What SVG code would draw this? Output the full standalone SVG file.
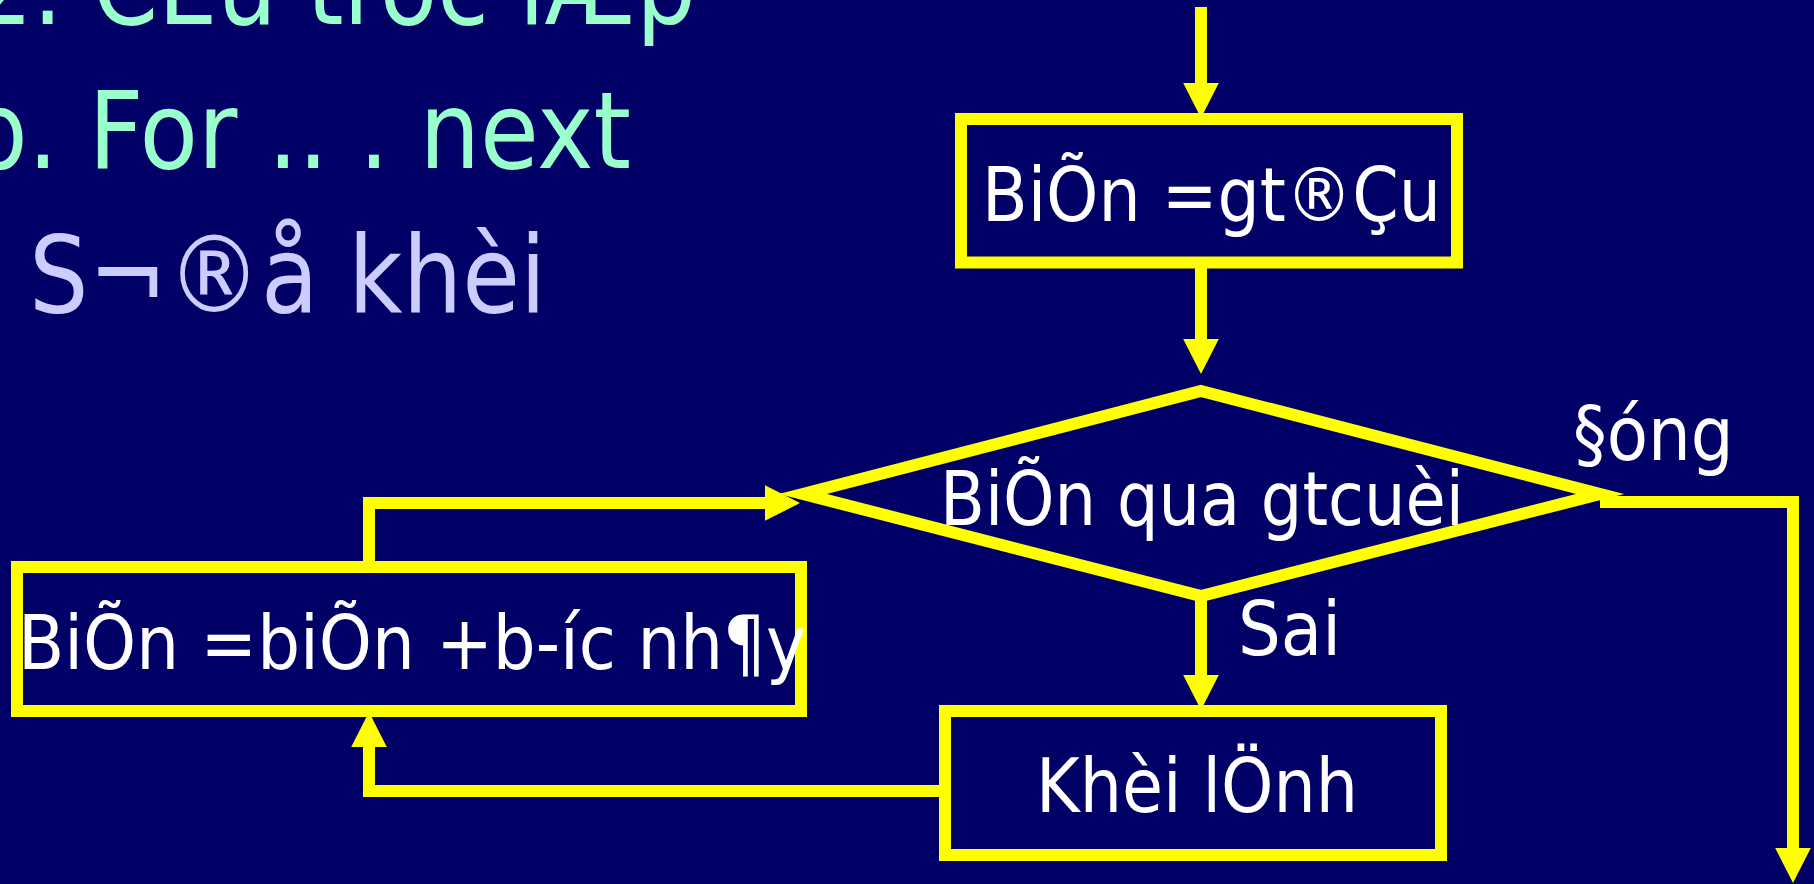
<svg xmlns="http://www.w3.org/2000/svg" width="1814" height="884" viewBox="0 0 1814 884">
<style>
.t{font-family:"DejaVu Sans Condensed","DejaVu Sans",sans-serif;font-stretch:condensed}
.title{font-size:107px;fill:#99FFCC}
.sub{font-size:107px;fill:#CCCCFF}
.lbl{font-size:75px;fill:#FFFFFF}
.shape{fill:none;stroke:#FFFF00;stroke-width:12;stroke-miterlimit:10}
.conn{fill:none;stroke:#FFFF00;stroke-width:12}
</style>
<defs>
<marker id="arr" markerUnits="userSpaceOnUse" markerWidth="36" markerHeight="36" refX="1" refY="17.8" orient="auto">
<path d="M0,0 L35,17.8 L0,35.6 z" fill="#FFFF00"/>
</marker>
</defs>
<rect x="0" y="0" width="1814" height="884" fill="#000066"/>
<g id="titles">
<text class="t title" x="-27" y="24" textLength="723" lengthAdjust="spacingAndGlyphs">2. CÊu tróc lÆp</text>
<text class="t title" x="-33" y="168" textLength="664" lengthAdjust="spacingAndGlyphs">b. For .. . next</text>
<text class="t sub" x="29" y="312" textLength="517" lengthAdjust="spacingAndGlyphs">S¬®å khèi</text>
</g>
<g id="connectors">
<path class="conn" d="M1201,7 V84" marker-end="url(#arr)"/>
<path class="conn" d="M1201,268 V340" marker-end="url(#arr)"/>
<path class="conn" d="M1201,596 V676" marker-end="url(#arr)"/>
<path class="conn" d="M1600,502 H1793 V849" marker-end="url(#arr)"/>
<path class="conn" d="M939,791 H369 V746" marker-end="url(#arr)"/>
<path class="conn" d="M369,561 V503 H766" marker-end="url(#arr)"/>
</g>
<g id="start-box">
<rect class="shape" x="961" y="119" width="496" height="143.5"/>
<text class="t lbl" x="1211.5" y="221" text-anchor="middle" textLength="459" lengthAdjust="spacingAndGlyphs">BiÕn =gt®Çu</text>
</g>
<g id="decision">
<polygon class="shape" points="1201,391 1600,494 1201,596 803,494"/>
<text class="t lbl" x="1202" y="525" text-anchor="middle" textLength="524" lengthAdjust="spacingAndGlyphs">BiÕn qua gtcuèi</text>
<text class="t lbl" x="1573" y="460">§óng</text>
<text class="t lbl" x="1238" y="655">Sai</text>
</g>
<g id="body-box">
<rect class="shape" x="945" y="711" width="496" height="144"/>
<text class="t lbl" x="1197" y="812" text-anchor="middle" textLength="322" lengthAdjust="spacingAndGlyphs">Khèi lÖnh</text>
</g>
<g id="step-box">
<rect class="shape" x="17" y="567" width="784" height="144"/>
<text class="t lbl" x="18" y="669" textLength="788" lengthAdjust="spacingAndGlyphs">BiÕn =biÕn +b-íc nh¶y</text>
</g>
</svg>
